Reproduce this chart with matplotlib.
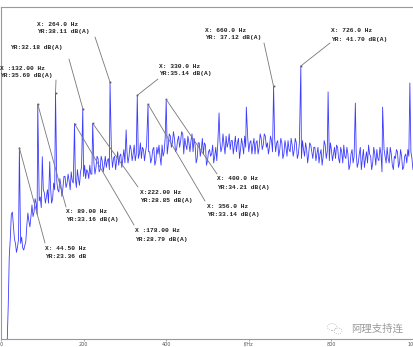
import numpy as np
import matplotlib.pyplot as plt
from matplotlib.patches import Ellipse

# background spectrum read every 5 Hz from 10 Hz to 1000 Hz (dB(A))
base_start, base_step = 10, 5
base_db = [
    -25, -20, -1, 8.5, 6, 2, 1.2, 4.3, 3.4, 0.5,
    2.3, 8.8, 5.7, 10.6, 9.0, 11.0, 9.9, 12.4, 11, 13.3,
    12.5, 11, 14.5, 12, 14, 16, 13.5, 15, 14.5, 17,
    15.5, 16, 18, 15.5, 16.5, 18.5, 15, 19, 17, 16.5,
    18, 19.5, 17.5, 20, 19, 21, 18.5, 20.5, 19.5, 19,
    21, 20, 19, 21.5, 20.5, 19.5, 22, 21, 20, 22.5,
    21.5, 23, 22, 20.5, 23.5, 22, 21, 23, 22.5, 20,
    22.5, 21, 23.5, 20.5, 22, 21.5, 24, 22.5, 25, 24,
    26, 24.5, 25.5, 23, 26, 25, 24, 25.5, 23, 24.5,
    25, 22.5, 24, 21, 24.5, 23, 22, 24, 20.5, 23,
    22, 20, 23.5, 24.5, 25, 23.5, 24, 26, 24.5, 23,
    25, 24, 22.5, 25.5, 23, 24, 26, 23.5, 22.5, 25,
    24, 22, 25, 23.5, 25.5, 24, 26, 24.5, 23.5, 25,
    24, 22.5, 25, 23, 24.5, 22, 23.5, 25, 22.5, 24,
    23, 24.5, 22, 23.5, 25, 21.5, 23, 22, 24, 21,
    23.5, 22, 20, 23, 21.5, 24, 22.5, 20.5, 23, 22,
    21, 23.5, 20, 22.5, 24, 21, 22, 19.5, 23, 21.5,
    22.5, 20, 23.5, 21, 19, 22.5, 24, 21.5, 20, 22,
    23, 20.5, 22, 19.5, 21.5, 23.5, 20, 22, 18.5, 21,
    22.5, 20, 21.5, 19, 22, 23, 19.5, 21, 20,
]
# in-between readings at 12.5, 17.5, ... 997.5 Hz
mid_db = [
    -23, -12, 3, 9, 3, 0, 3, 2, 1, 1.5,
    6, 7, 8, 8, 12, 8.5, 11.5, 10, 14, 11,
    14, 13, 11, 15.5, 12.5, 14, 16.5, 12.5, 17, 14.5,
    17.5, 14, 16, 18, 14.5, 16.5, 18, 16, 19.5, 18.5,
    16.5, 17.5, 21, 17.5, 21.5, 18, 21.5, 18, 21.5, 20.5,
    18.5, 22, 21, 18.5, 22.5, 21.5, 19, 23, 22.5, 20,
    24, 20.5, 24, 22, 21, 24.5, 23.5, 20.5, 24, 22.5,
    20, 23, 19.5, 23.5, 24, 19.5, 21.5, 25.5, 22, 26.5,
    23.5, 27, 22.5, 25, 23.5, 27, 22, 24, 26, 22.5,
    26.5, 25.5, 20, 24.5, 21.5, 25.5, 24.5, 19.5, 22.5, 21.5,
    24, 21.5, 20.5, 26, 22.5, 26.5, 22, 23.5, 26.5, 25,
    22, 26, 24.5, 21, 25.5, 22, 23.5, 25.5, 24.5, 22,
    25.5, 24.5, 22, 26.5, 23, 26.5, 23.5, 22, 26, 22.5,
    25.5, 24.5, 21.5, 25.5, 21, 25, 21.5, 23, 25.5, 21.5,
    25.5, 21, 24.5, 21, 23, 24.5, 20, 24.5, 22.5, 23.5,
    20.5, 23.5, 22, 19.5, 25, 21, 19, 24.5, 20.5, 23.5,
    24, 21, 23.5, 20, 21.5, 23.5, 18.5, 22, 20, 23.5,
    19, 22, 18.5, 23, 21, 20, 22, 18.5, 23.5, 19.5,
    21, 23.5, 18, 23, 20, 21, 23.5, 19.5, 21.5, 23,
    19, 23, 18.5, 21.5, 20, 21.5, 22.5, 18.5,
]

# narrow tonal peaks
peak_freq = [44.5, 89, 100, 118, 132, 178, 198, 222, 264, 303, 330, 356,
             400, 440, 528, 594, 660, 726, 792, 858, 924, 990]
peak_db = [23.36, 33.16, 21.4, 20.3, 35.69, 28.79, 32.18, 28.85, 38.11, 27.4,
           35.14, 33.14, 34.21, 26.5, 31.2, 32.5, 37.12, 41.70, 35.9, 33.4,
           32.5, 37.9]

# data cursors
cursor_freq = [264, 198, 132, 330, 660, 726, 44.5, 89, 178, 222, 356, 400]
cursor_db = [38.11, 32.18, 35.69, 35.14, 37.12, 41.70, 23.36, 33.16, 28.79, 28.85, 33.14, 34.21]
cursor_line1 = ["X: 264.0 Hz", "", "X :132.00 Hz", "X: 330.0 Hz", "X: 660.0 Hz", "X: 726.0 Hz",
                "X: 44.50 Hz", "X: 89.00 Hz", "X :178.00 Hz", "X:222.00 Hz", "X: 356.0 Hz",
                "X: 400.0 Hz"]
cursor_line2 = ["YR:38.11 dB(A)", "YR:32.18 dB(A)", "YR:35.69 dB(A)", "YR:35.14 dB(A)",
                "YR: 37.12 dB(A)", "YR: 41.70 dB(A)", "YR:23.36 dB", "YR:33.16 dB(A)",
                "YR:28.79 dB(A)", "YR:28.85 dB(A)", "YR:33.14 dB(A)", "YR:34.21 dB(A)"]
# layout (pixels from top-left): text left, first line y, leader start
text_x = [37, 10, 0, 159, 205, 331, 45, 66, 135, 140, 207, 217]
text_y = [24, 40, 68, 66, 30, 31, 249, 212, 231, 193, 206, 179]
lead_x = [95, 69, 56, 158, 264, 330, 45, 66, 134, 138, 205, 217]
lead_y = [37, 59, 80, 79, 43, 43, 243, 207, 225, 187, 201, 174]

tick_vals = [0, 200, 400, 600, 800, 1000]
tick_text = ["0", "200", "400", "f/Hz", "800", "1000"]

W, H = 414, 347
fig = plt.figure(figsize=(W / 100, H / 100), dpi=100)
ax = fig.add_axes([1 / W, 8 / H, 1 - 1 / W, 332 / H])

base_f = base_start + base_step * np.arange(len(base_db))
mid_f = base_f[:len(mid_db)] + base_step / 2
grid_f = np.concatenate([base_f, mid_f])
grid_v = np.array(base_db + mid_db, dtype=float)
pf = np.array(peak_freq)
keep = np.array([np.min(np.abs(pf - f)) > 1.2 for f in grid_f])
f_all = np.concatenate([grid_f[keep], pf])
v_all = np.concatenate([grid_v[keep], np.array(peak_db)])
order = np.argsort(f_all)
ax.plot(f_all[order], v_all[order], color="#3c3cff", lw=0.6)

ax.set_xlim(0, 1000)
ax.set_ylim(-19.4, 54.9)
ax.set_yticks([])
ax.set_xticks(tick_vals)
ax.set_xticklabels(tick_text, fontsize=3.5, color="#555555")
ax.tick_params(axis="x", length=1.5, width=0.5, pad=0.5, color="#888888")
for side in ["left", "top", "bottom"]:
    ax.spines[side].set_color("#999999")
    ax.spines[side].set_linewidth(0.8)
ax.spines["right"].set_visible(False)

for i in range(len(cursor_freq)):
    ax.annotate("", xy=(cursor_freq[i], cursor_db[i]),
                xytext=(lead_x[i], H - lead_y[i]), textcoords="figure pixels",
                arrowprops=dict(arrowstyle="-", color="#777777", lw=0.6,
                                shrinkA=0, shrinkB=0))
    ax.plot(cursor_freq[i], cursor_db[i], marker="s", ms=1.2, color="#555555",
            mec="none")
    if cursor_line1[i]:
        fig.text(text_x[i] / W, 1 - text_y[i] / H, cursor_line1[i], fontsize=4.5,
                 family="Liberation Mono", weight="bold", va="center", color="#222222")
    fig.text(text_x[i] / W, 1 - (text_y[i] + 8) / H, cursor_line2[i], fontsize=4.5,
             family="Liberation Mono", weight="bold", va="center", color="#222222")

# watermark
fig.text(351 / W, 1 - 329 / H, "阿理支持连", fontsize=7.5, color="#9a9a9a",
         family=["Noto Sans CJK SC", "DejaVu Sans"], va="center")
fig.patches.append(Ellipse((332 / W, 1 - 327 / H), 9 / W, 7 / H, transform=fig.transFigure,
                           fill=False, ec="#b0b0b0", lw=0.6, ls=":"))
fig.patches.append(Ellipse((338 / W, 1 - 331 / H), 8 / W, 6 / H, transform=fig.transFigure,
                           fill=False, ec="#b0b0b0", lw=0.6, ls=":"))

fig.savefig("out.png", dpi=100)
